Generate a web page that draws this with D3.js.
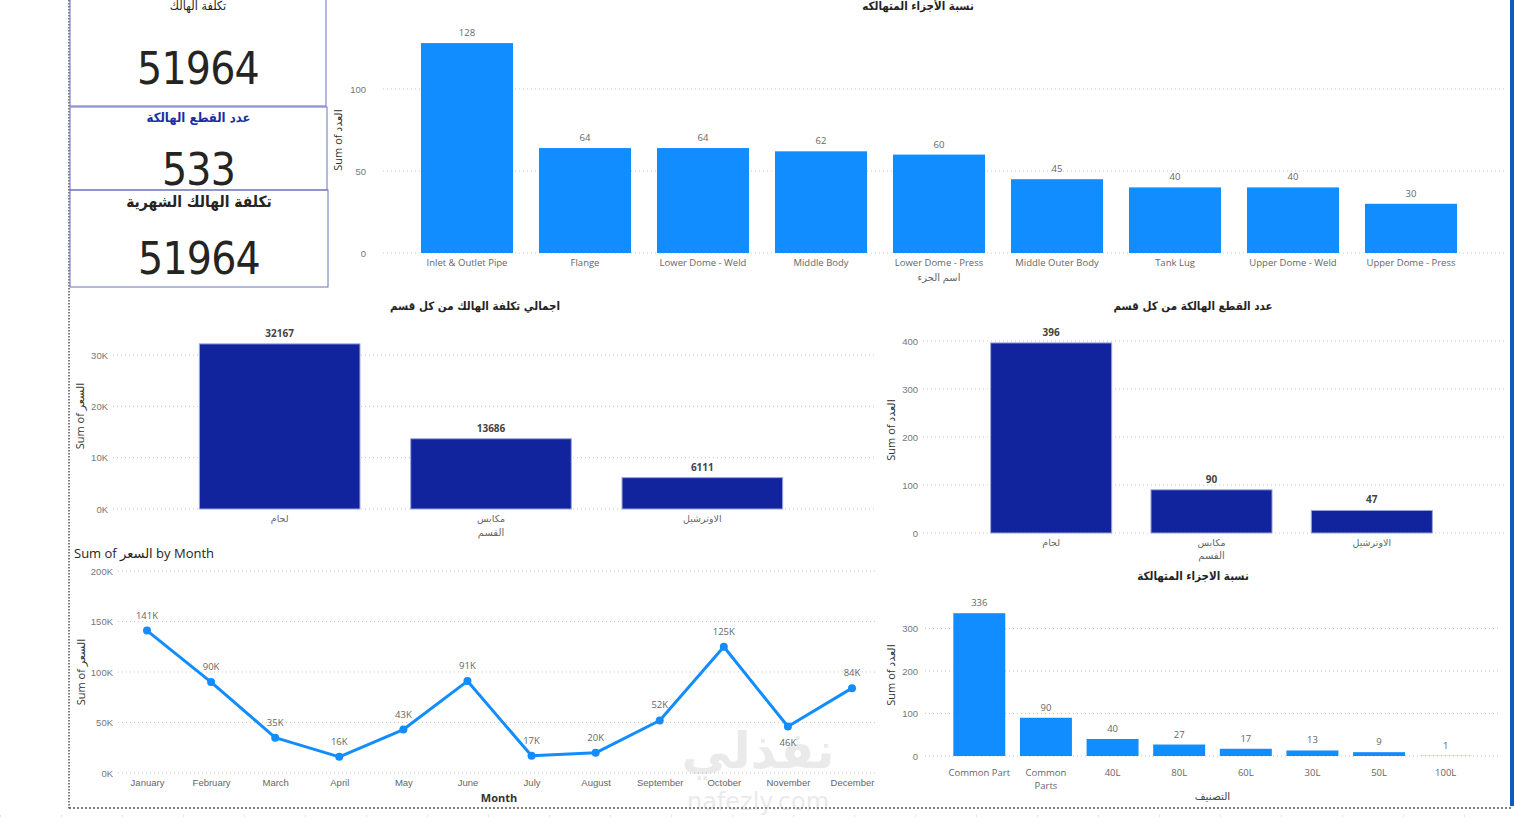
<!DOCTYPE html>
<html>
<head>
<meta charset="utf-8">
<script src="https://cdn.jsdelivr.net/npm/d3@7"></script>
<style>
  body { margin: 0; background: #fff; }
  svg { display: block; font-family: "Segoe UI", "Open Sans", "DejaVu Sans", sans-serif; }
</style>
</head>
<body>
<div id="dash"></div>
<script>
// cards
var cardTitles = ["تكلفة الهالك", "عدد القطع الهالكة", "تكلفة الهالك الشهرية"];
var cardValues = ["51964", "533", "51964"];

// parts chart
var partNames = ["Inlet & Outlet Pipe", "Flange", "Lower Dome - Weld", "Middle Body", "Lower Dome - Press",
                 "Middle Outer Body", "Tank Lug", "Upper Dome - Weld", "Upper Dome - Press"];
var partCounts = [128, 64, 64, 62, 60, 45, 40, 40, 30];

// sections
var sections = ["لحام", "مكابس", "الاوترشيل"];
var sectionCost = [32167, 13686, 6111];
var sectionCount = [396, 90, 47];

// monthly cost
var months = ["January", "February", "March", "April", "May", "June", "July", "August",
              "September", "October", "November", "December"];
var monthCost = [141000, 90000, 35000, 16000, 43000, 91000, 17000, 20000, 52000, 125000, 46000, 84000];
var monthLabels = ["141K", "90K", "35K", "16K", "43K", "91K", "17K", "20K", "52K", "125K", "46K", "84K"];

// classification
var classes = ["Common Part", "Common Parts", "40L", "80L", "60L", "30L", "50L", "100L"];
var classCount = [336, 90, 40, 27, 17, 13, 9, 1];

var arFont = "DejaVu Sans Condensed, DejaVu Sans, sans-serif";

var svg = d3.select("#dash").append("svg").attr("width", 1515).attr("height", 818);

// frame lines
svg.append("line").attr("x1", 69).attr("x2", 69).attr("y1", 0).attr("y2", 810)
  .attr("stroke", "#555").attr("stroke-width", 1.5).attr("stroke-dasharray", "1.5,1.5");
svg.append("line").attr("x1", 69).attr("x2", 1512).attr("y1", 808).attr("y2", 808)
  .attr("stroke", "#555").attr("stroke-width", 1.5).attr("stroke-dasharray", "2,2");
svg.append("line").attr("x1", 0).attr("x2", 1515).attr("y1", 816).attr("y2", 816)
  .attr("stroke", "#bbb").attr("stroke-width", 1).attr("stroke-dasharray", "1,60");
svg.append("rect").attr("x", 1510).attr("y", 0).attr("width", 4).attr("height", 806).attr("fill", "#0b5cbd");

// ---- cards ----
var cards = [
  {x: 70, y: -5, w: 256, h: 111, ty: 10, vy: 84, tcol: "#252423", tsize: 12.5, tw: "normal"},
  {x: 70, y: 107, w: 257, h: 83, ty: 122, vy: 185, tcol: "#1a2fa0", tsize: 13, tw: "bold"},
  {x: 70, y: 190, w: 258, h: 97, ty: 207, vy: 274, tcol: "#252423", tsize: 15.5, tw: "bold"}
];
cards.forEach(function(c, i) {
  svg.append("rect").attr("x", c.x).attr("y", c.y).attr("width", c.w).attr("height", c.h)
    .attr("fill", "none").attr("stroke", "#6b74b8").attr("stroke-width", 1);
  svg.append("text").attr("x", c.x + c.w / 2).attr("y", c.ty).attr("text-anchor", "middle")
    .attr("font-family", arFont).attr("font-weight", c.tw)
    .attr("font-size", c.tsize).attr("fill", c.tcol).text(cardTitles[i]);
  svg.append("text").attr("x", c.x + c.w / 2).attr("y", c.vy).attr("text-anchor", "middle")
    .attr("font-family", arFont).attr("letter-spacing", -0.8)
    .attr("font-size", 44).attr("fill", "#252423").text(cardValues[i]);
});

function wrapText(sel, maxW) {
  sel.each(function() {
    var t = d3.select(this), words = t.text().split(" ");
    if (this.getComputedTextLength() <= maxW || words.length < 2) return;
    var x = t.attr("x");
    t.text(null);
    var line = [], tspan = t.append("tspan").attr("x", x);
    words.forEach(function(w) {
      line.push(w);
      tspan.text(line.join(" "));
      if (tspan.node().getComputedTextLength() > maxW && line.length > 1) {
        line.pop();
        tspan.text(line.join(" "));
        line = [w];
        tspan = t.append("tspan").attr("x", x).attr("dy", "1.35em").text(w);
      }
    });
  });
}

// generic bar chart
function barChart(o) {
  var g = svg.append("g");
  var x = d3.scaleBand().domain(o.cats).range(o.xr).paddingInner(o.pad).paddingOuter(o.pad / 2);
  var y = d3.scaleLinear().domain(o.ydom).range(o.yr);

  // grid
  g.selectAll(".grid").data(o.ticks).enter().append("line")
    .attr("x1", o.gx[0]).attr("x2", o.gx[1])
    .attr("y1", function(d) { return y(d); }).attr("y2", function(d) { return y(d); })
    .attr("stroke", "#c8c8c8").attr("stroke-dasharray", "1,3");

  var ya = d3.axisLeft(y).tickValues(o.ticks).tickSize(0).tickFormat(o.fmt || d3.format("d"));
  var yg = g.append("g").attr("transform", "translate(" + o.tx + ",0)").call(ya);
  yg.select(".domain").remove();
  yg.selectAll("text").attr("font-size", 9.5).attr("fill", "#777").attr("x", 0);

  g.append("text").attr("transform", "translate(" + o.ylx + "," + o.yly + ") rotate(-90)")
    .attr("text-anchor", "middle").attr("font-size", 11).attr("fill", "#333").text(o.ytitle);

  g.selectAll(".bar").data(o.vals).enter().append("rect")
    .attr("x", function(d, i) { return x(o.cats[i]); })
    .attr("y", function(d) { return y(d); })
    .attr("width", x.bandwidth())
    .attr("height", function(d) { return y(0) - y(d); })
    .attr("fill", function(d, i) { return o.colors ? o.colors[i] : o.color; })
    .attr("stroke", o.stroke || "none").attr("stroke-width", 1);

  g.selectAll(".val").data(o.vals).enter().append("text")
    .attr("x", function(d, i) { return x(o.cats[i]) + x.bandwidth() / 2; })
    .attr("y", function(d) { return y(d) - 7; })
    .attr("text-anchor", "middle").attr("font-size", o.vsize || 9.5)
    .attr("font-weight", o.vbold ? "bold" : "normal")
    .attr("fill", o.vcol || "#666").text(function(d) { return d; });

  var xl = g.selectAll(".xl").data(o.cats).enter().append("text")
    .attr("x", function(d) { return x(d) + x.bandwidth() / 2; })
    .attr("y", o.y0 + (o.xld || 13))
    .attr("text-anchor", "middle").attr("font-size", 9.5).attr("fill", "#666").text(function(d) { return d; });
  if (o.wrap) wrapText(xl, o.wrap);

  g.append("text").attr("x", (o.xr[0] + o.xr[1]) / 2).attr("y", o.xty)
    .attr("text-anchor", "middle").attr("font-size", o.xtsize || 10)
    .attr("fill", o.xtcol || "#666").text(o.xtitle);

  g.append("text").attr("x", o.titleX).attr("y", o.titleY).attr("text-anchor", "middle")
    .attr("font-family", arFont).attr("font-weight", "bold")
    .attr("font-size", 11.5).attr("fill", "#252423").text(o.title);
}

// top: parts
barChart({
  cats: partNames, vals: partCounts, xr: [408, 1470], pad: 0.22,
  ydom: [0, 100], yr: [253, 89], y0: 253, ticks: [0, 50, 100], gx: [383, 1505], tx: 366,
  ylx: 342, yly: 140, ytitle: "Sum of العدد", color: "#118DFF",
  xtitle: "اسم الجزء", xty: 281, title: "نسبة الأجزاء المتهالكه", titleX: 918, titleY: 10
});

// middle left: cost per section
barChart({
  cats: sections, vals: sectionCost, xr: [174, 808], pad: 0.24,
  ydom: [0, 30000], yr: [509, 355], y0: 509, ticks: [0, 10000, 20000, 30000], gx: [113, 877], tx: 108,
  fmt: function(d) { return (d / 1000) + "K"; },
  ylx: 84, yly: 416, ytitle: "Sum of السعر", color: "#12239E", stroke: "#9aa6e0",
  vbold: true, vcol: "#444", vsize: 10,
  xtitle: "القسم", xty: 536, title: "اجمالي تكلفة الهالك من كل قسم", titleX: 475, titleY: 310
});

// middle right: count per section
barChart({
  cats: sections, vals: sectionCount, xr: [971, 1452], pad: 0.245,
  ydom: [0, 400], yr: [533, 341], y0: 533, ticks: [0, 100, 200, 300, 400], gx: [923, 1505], tx: 918,
  ylx: 895, yly: 430, ytitle: "Sum of العدد", color: "#12239E", stroke: "#9aa6e0",
  vbold: true, vcol: "#444", vsize: 10,
  xtitle: "القسم", xty: 559, title: "عدد القطع الهالكة من كل قسم", titleX: 1193, titleY: 310
});

// bottom right: classification
barChart({
  cats: classes, vals: classCount, xr: [946, 1479], pad: 0.22,
  ydom: [0, 300], yr: [756, 628.5], y0: 756, xld: 20, ticks: [0, 100, 200, 300], gx: [925, 1500], tx: 918,
  ylx: 895, yly: 675, ytitle: "Sum of العدد",
  colors: ["#118DFF", "#118DFF", "#118DFF", "#118DFF", "#118DFF", "#118DFF", "#118DFF", "#8cc4f2"],
  wrap: 63, xtsize: 10.5, xtcol: "#444",
  xtitle: "التصنيف", xty: 800, title: "نسبة الاجزاء المتهالكة", titleX: 1193, titleY: 580
});

// bottom left: monthly line
(function() {
  var g = svg.append("g");
  var x = d3.scalePoint().domain(months).range([147, 852]);
  var y = d3.scaleLinear().domain([0, 200000]).range([773, 571]);
  var ticks = [0, 50000, 100000, 150000, 200000];

  g.selectAll(".grid").data(ticks).enter().append("line")
    .attr("x1", 118).attr("x2", 877)
    .attr("y1", function(d) { return y(d); }).attr("y2", function(d) { return y(d); })
    .attr("stroke", "#c8c8c8").attr("stroke-dasharray", "1,3");

  var yg = g.append("g").attr("transform", "translate(113,0)")
    .call(d3.axisLeft(y).tickValues(ticks).tickSize(0).tickFormat(function(d) { return (d / 1000) + "K"; }));
  yg.select(".domain").remove();
  yg.selectAll("text").attr("font-size", 9.5).attr("fill", "#777").attr("x", 0);

  var xg = g.append("g").attr("transform", "translate(0,773)")
    .call(d3.axisBottom(x).tickSize(0).tickPadding(6));
  xg.select(".domain").remove();
  xg.selectAll("text").attr("font-size", 9.5).attr("fill", "#666");

  g.append("text").attr("transform", "translate(85,672) rotate(-90)")
    .attr("text-anchor", "middle").attr("font-size", 11).attr("fill", "#333").text("Sum of السعر");
  g.append("text").attr("x", 499).attr("y", 802).attr("text-anchor", "middle")
    .attr("font-size", 11).attr("font-weight", "bold").attr("fill", "#333").text("Month");
  g.append("text").attr("x", 74).attr("y", 558).attr("font-size", 13).attr("fill", "#252423")
    .text("Sum of السعر by Month");

  var line = d3.line().x(function(d, i) { return x(months[i]); }).y(function(d) { return y(d); });
  g.append("path").datum(monthCost).attr("d", line).attr("fill", "none")
    .attr("stroke", "#118DFF").attr("stroke-width", 3).attr("stroke-linejoin", "round");
  g.selectAll(".pt").data(monthCost).enter().append("circle")
    .attr("cx", function(d, i) { return x(months[i]); }).attr("cy", function(d) { return y(d); })
    .attr("r", 4).attr("fill", "#118DFF");
  g.selectAll(".lbl").data(monthCost).enter().append("text")
    .attr("x", function(d, i) { return x(months[i]); })
    .attr("y", function(d, i) { return i === 10 ? y(d) + 19 : y(d) - 12; })
    .attr("text-anchor", "middle").attr("font-size", 9.5).attr("fill", "#666")
    .text(function(d, i) { return monthLabels[i]; });
})();

// faint site watermark
svg.append("text").attr("x", 758).attr("y", 768).attr("text-anchor", "middle")
  .attr("font-family", "DejaVu Sans, sans-serif").attr("font-weight", "bold").attr("font-size", 50)
  .attr("fill", "#999").attr("opacity", 0.2).text("نفذلي");
svg.append("text").attr("x", 758).attr("y", 810).attr("text-anchor", "middle")
  .attr("font-family", "DejaVu Sans, sans-serif").attr("font-size", 24)
  .attr("fill", "#999").attr("opacity", 0.2).text("nafezly.com");
</script>
</body>
</html>
